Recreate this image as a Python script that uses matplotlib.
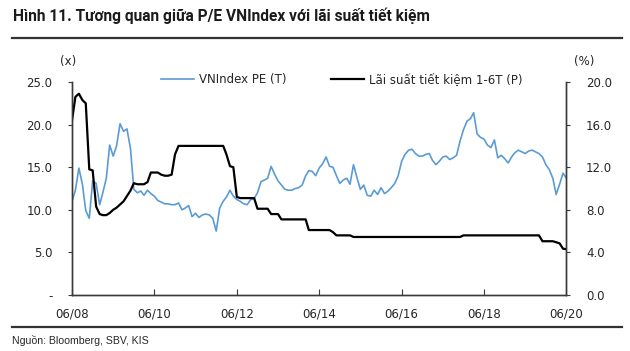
import numpy as np
import pandas as pd
import matplotlib
matplotlib.use('Agg')
from matplotlib import pyplot as plt
import matplotlib.dates as mdates
from matplotlib.ticker import FixedLocator, FixedFormatter

# monthly data, 06/2008 -> 06/2020
dates = pd.date_range('2008-06-01', '2020-06-01', freq='MS')

pe_vnindex = [
    11.0, 12.3, 14.9, 13.0, 9.9, 9.0, 13.4, 13.1, 10.6, 12.0,
    13.7, 17.6, 16.3, 17.5, 20.1, 19.2, 19.5, 17.2, 12.4, 12.0,
    12.2, 11.7, 12.3, 11.9, 11.6, 11.1, 10.9, 10.7, 10.7, 10.6,
    10.6, 10.8, 10.0, 10.2, 10.5, 9.2, 9.6, 9.1, 9.4, 9.5,
    9.4, 9.0, 7.5, 10.2, 11.0, 11.5, 12.3, 11.6, 11.2, 11.0,
    10.7, 10.6, 11.2, 11.3, 12.0, 13.3, 13.5, 13.7, 15.1, 14.2,
    13.4, 12.9, 12.4, 12.3, 12.3, 12.5, 12.6, 12.9, 14.0, 14.6,
    14.5, 14.0, 14.9, 15.4, 16.2, 15.1, 15.0, 14.0, 13.1, 13.5,
    13.7, 13.0, 15.3, 13.8, 12.4, 12.9, 11.7, 11.6, 12.3, 11.8,
    12.6, 11.9, 12.2, 12.6, 13.1, 14.0, 15.7, 16.5, 17.0, 17.1,
    16.6, 16.3, 16.3, 16.5, 16.6, 15.8, 15.3, 15.7, 16.2, 16.3,
    15.9, 16.1, 16.4, 18.1, 19.4, 20.4, 20.7, 21.4, 18.9, 18.5,
    18.3, 17.6, 17.3, 18.2, 16.1, 16.4, 16.0, 15.5, 16.2, 16.7,
    17.0, 16.8, 16.6, 16.9, 17.0, 16.8, 16.6, 16.2, 15.3, 14.7,
    13.7, 11.8, 13.0, 14.3, 13.7,
]

lai_suat = [
    16.4, 18.6, 18.9, 18.3, 18.0, 11.8, 11.7, 8.3, 7.6, 7.5,
    7.5, 7.7, 8.0, 8.2, 8.5, 8.8, 9.3, 9.8, 10.5, 10.4,
    10.4, 10.4, 10.6, 11.5, 11.5, 11.5, 11.3, 11.2, 11.2, 11.3,
    13.2, 14.0, 14.0, 14.0, 14.0, 14.0, 14.0, 14.0, 14.0, 14.0,
    14.0, 14.0, 14.0, 14.0, 14.0, 13.2, 12.1, 12.0, 9.2, 9.1,
    9.1, 9.1, 9.1, 9.1, 8.1, 8.1, 8.1, 8.1, 7.6, 7.6,
    7.6, 7.1, 7.1, 7.1, 7.1, 7.1, 7.1, 7.1, 7.1, 6.1,
    6.1, 6.1, 6.1, 6.1, 6.1, 6.1, 5.9, 5.6, 5.6, 5.6,
    5.6, 5.6, 5.45, 5.45, 5.45, 5.45, 5.45, 5.45, 5.45, 5.45,
    5.45, 5.45, 5.45, 5.45, 5.45, 5.45, 5.45, 5.45, 5.45, 5.45,
    5.45, 5.45, 5.45, 5.45, 5.45, 5.45, 5.45, 5.45, 5.45, 5.45,
    5.45, 5.45, 5.45, 5.45, 5.6, 5.6, 5.6, 5.6, 5.6, 5.6,
    5.6, 5.6, 5.6, 5.6, 5.6, 5.6, 5.6, 5.6, 5.6, 5.6,
    5.6, 5.6, 5.6, 5.6, 5.6, 5.6, 5.6, 5.05, 5.05, 5.05,
    5.05, 4.95, 4.85, 4.35, 4.3,
]

x_ticks = ['2008-06-01', '2010-06-01', '2012-06-01', '2014-06-01',
           '2016-06-01', '2018-06-01', '2020-06-01']
left_ticks = [0, 5, 10, 15, 20, 25]
left_labels = ['-', '5.0', '10.0', '15.0', '20.0', '25.0']
right_ticks = [0, 4, 8, 12, 16, 20]
right_labels = ['0.0', '4.0', '8.0', '12.0', '16.0', '20.0']

plt.rcParams['font.family'] = ['DejaVu Sans']
axis_col = '#3a3a3a'
text_col = '#262626'

fig = plt.figure(figsize=(6.3, 3.51), dpi=100)
ax1 = fig.add_axes([0.1143, 0.1595, 0.7849, 0.6069])
ax2 = ax1.twinx()

l1, = ax1.plot(dates, pe_vnindex, color='#5b9bd5', lw=1.2, label='VNIndex PE (T)')
l2, = ax2.plot(dates, lai_suat, color='black', lw=1.6, label='Lãi suất tiết kiệm 1-6T (P)')

ax1.set_xlim(pd.Timestamp('2008-06-01'), pd.Timestamp('2020-06-01'))
ax1.set_ylim(0, 25)
ax2.set_ylim(0, 20)

ax1.xaxis.set_major_locator(FixedLocator(mdates.date2num(pd.to_datetime(x_ticks))))
ax1.xaxis.set_major_formatter(mdates.DateFormatter('%m/%y'))
ax1.set_yticks(left_ticks)
ax1.set_yticklabels(left_labels)
ax2.set_yticks(right_ticks)
ax2.set_yticklabels(right_labels)

for ax in (ax1, ax2):
    ax.spines['top'].set_visible(False)
    for s in ('left', 'right', 'bottom'):
        ax.spines[s].set_color(axis_col)
        ax.spines[s].set_linewidth(1.0)

ax1.tick_params(axis='x', direction='in', length=4, width=0.8, color=axis_col,
                labelsize=8.5, labelcolor=text_col, pad=9)
ax1.tick_params(axis='y', direction='out', length=3, width=0.8, color=axis_col,
                labelsize=8.5, labelcolor=text_col, pad=11)
ax2.tick_params(axis='y', direction='out', length=3, width=0.8, color=axis_col,
                labelsize=8.5, labelcolor=text_col, pad=11)

fig.text(68 / 630, 1 - 62 / 351, '(x)', fontsize=8.5, color=text_col, ha='center', va='center')
fig.text(584 / 630, 1 - 62 / 351, '(%)', fontsize=8.5, color=text_col, ha='center', va='center')

ax1.legend(handles=[l1, l2], ncol=2, frameon=False, fontsize=8.5,
           loc='center left', bbox_to_anchor=(161 / 630, 1 - 80 / 351),
           bbox_transform=fig.transFigure, handlelength=2.8, handletextpad=0.4,
           columnspacing=3.8, borderpad=0, borderaxespad=0, labelcolor=text_col)

# title, rules, source
fig.text(13 / 630, 1 - 16 / 351, 'Hình 11. Tương quan giữa P/E VNIndex với lãi suất tiết kiệm',
         fontsize=11.2, fontweight='bold', family=['Roboto', 'DejaVu Sans'],
         color='#1a1a1a', ha='left', va='center')
fig.add_artist(plt.Line2D([12 / 630, 622 / 630], [1 - 38 / 351] * 2, color='#333333', lw=1.6))
fig.add_artist(plt.Line2D([12 / 630, 622 / 630], [1 - 327 / 351] * 2, color='#333333', lw=1.6))
fig.text(12 / 630, 1 - 340 / 351, 'Nguồn: Bloomberg, SBV, KIS', fontsize=7.6,
         family=['Liberation Sans', 'DejaVu Sans'], color=text_col, ha='left', va='center')

fig.savefig('out.png', dpi=100)
